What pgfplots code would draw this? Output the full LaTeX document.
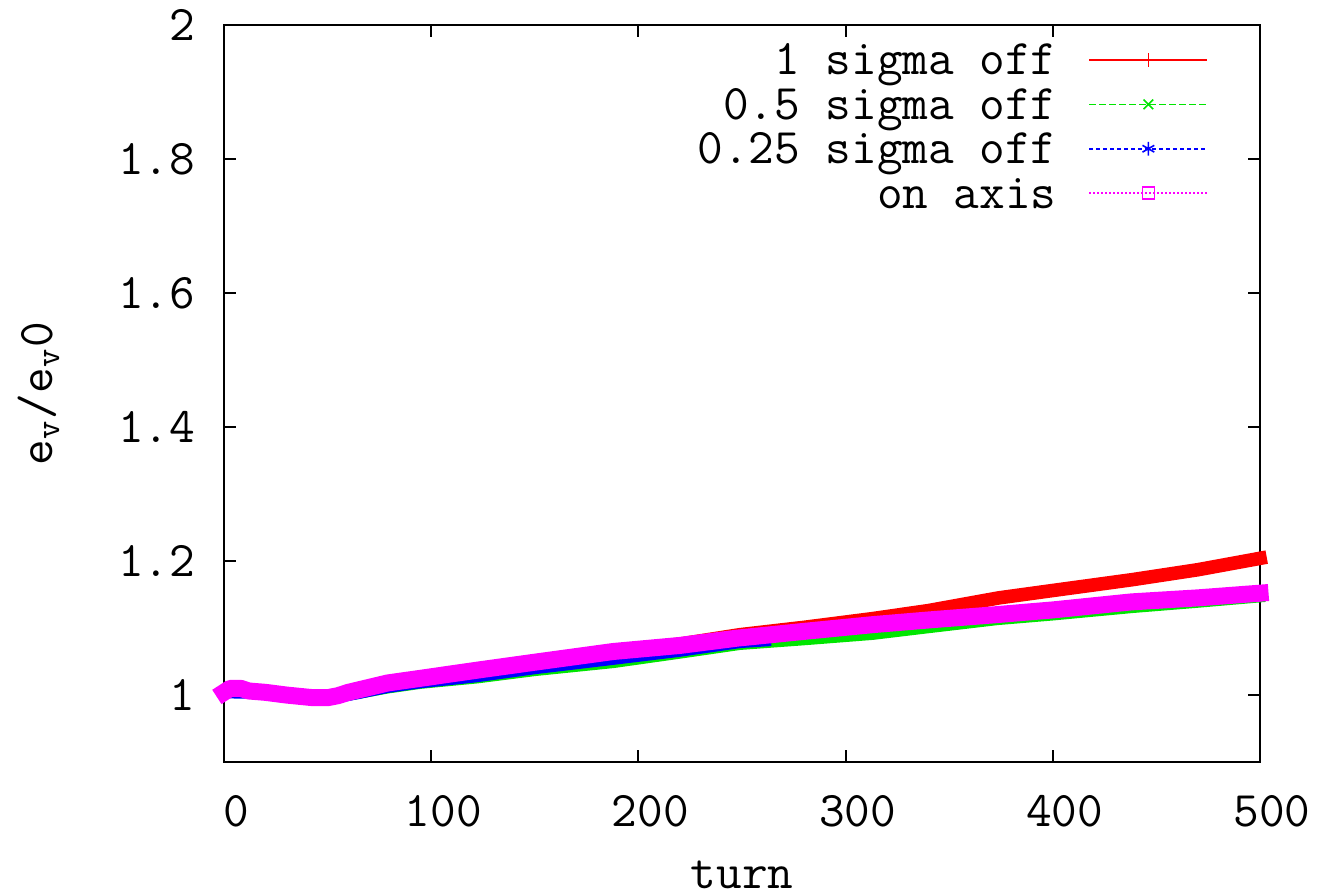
\documentclass[border=0pt]{standalone}
\usepackage{pgfplots}
\pgfplotsset{compat=1.18}
\renewcommand{\familydefault}{\ttdefault}
\definecolor{gpred}{RGB}{255,0,0}
\definecolor{gpgreen}{RGB}{0,230,0}
\definecolor{gpblue}{RGB}{0,0,255}
\definecolor{gpmag}{RGB}{255,0,255}
\begin{document}
\begin{tikzpicture}
\begin{axis}[
  name=ax,
  scale only axis,
  width=259bp, height=184.25bp,
  xmin=0, xmax=500, ymin=0.9, ymax=2,
  xtick={0,100,200,300,400,500},
  ytick={1,1.2,1.4,1.6,1.8,2},
  tick align=inside,
  xtick pos=both, ytick pos=both,
  major tick length=3bp,
  axis line style={line width=0.5bp},
  every tick/.style={black, line width=0.5bp},
  clip=false,
  /pgf/number format/assume math mode=true,
  /pgf/number format/fixed,
  tick label style={font=\fontsize{12.5}{15}\selectfont\ttfamily},
  yticklabel style={anchor=east, inner sep=0pt, xshift=-7bp},
  xticklabel style={anchor=north, inner sep=0pt, yshift=-8.25bp, xshift=3bp},
  label style={font=\fontsize{12.5}{15}\selectfont\ttfamily},
  xlabel={turn},
  xlabel style={at={(axis description cs:0.5,0)}, anchor=north, inner sep=0pt, yshift=-24.5bp},
  ylabel={e\textsubscript{v}/e\textsubscript{v}0},
  ylabel style={at={(axis description cs:-0.166,0.5)}, anchor=base, inner sep=0pt},
  legend style={draw=none, fill=none, at={(axis description cs:0.9623,0.993)}, anchor=north east,
    font=\fontsize{12.5}{15}\selectfont\ttfamily,
    nodes={inner sep=0pt, text height=9bp, text depth=1.5bp},
    row sep=0.6bp, column sep=8bp},
  legend cell align=right,
  legend plot pos=right,
  legend image code/.code={\draw[mark repeat=2,mark phase=2,#1] plot coordinates {(0bp,0bp) (14.75bp,0bp) (29.5bp,0bp)};},
]
% 1 sigma off
\addplot[gpred, line width=3.4bp, line cap=rect, line join=round, forget plot] coordinates {
(0,1.004) (3,1.009) (8,1.009) (12,1.006) (20,1.003) (30,0.999) (43,0.995) (50,0.995) (55,0.998)
(60,1.003) (79,1.016) (95,1.024) (122,1.036) (150,1.048) (188,1.064) (220,1.076) (249,1.090)
(280,1.101) (313,1.114) (340,1.126) (374,1.145) (400,1.156) (438,1.172) (470,1.187) (500,1.204)};
% 0.5 sigma off
\addplot[gpgreen, line width=2.6bp, line cap=rect, line join=round, forget plot] coordinates {
(0,1.004) (20,1.003) (43,0.996) (55,0.997) (65,1.002) (79,1.010) (95,1.017) (122,1.025)
(150,1.036) (188,1.048) (220,1.062) (249,1.075) (280,1.082) (313,1.090) (340,1.100) (373,1.112)
(400,1.119) (438,1.130) (470,1.138) (500,1.146)};
% 0.25 sigma off
\addplot[gpblue, line width=3bp, line join=round, forget plot] coordinates {
(0,1.004) (20,1.003) (43,0.996) (55,0.997) (65,1.003) (79,1.012) (95,1.019) (122,1.028)
(150,1.040) (188,1.054) (220,1.066) (249,1.079) (264,1.082)};
% on axis
\addplot[gpmag, line width=4.25bp, line cap=rect, line join=round, forget plot] coordinates {
(0,1.004) (3,1.010) (8,1.010) (12,1.006) (20,1.004) (30,1.000) (43,0.996) (50,0.996) (55,0.999)
(60,1.004) (79,1.018) (95,1.025) (122,1.037) (150,1.049) (188,1.065) (220,1.074) (248,1.085)
(280,1.095) (313,1.105) (340,1.112) (373,1.120) (400,1.127) (438,1.139) (470,1.145) (500,1.152)};
\addlegendimage{gpred, line width=0.4bp, mark=+, mark size=1.7bp}
\addlegendentry{1 sigma off}
\addlegendimage{gpgreen, line width=0.4bp, dash pattern=on 1.75bp off 0.75bp, mark=x, mark size=1.7bp, mark options={solid}}
\addlegendentry{0.5 sigma off}
\addlegendimage{gpblue, line width=0.4bp, dash pattern=on 1bp off 0.75bp, mark=asterisk, mark size=1.7bp, mark options={solid}}
\addlegendentry{0.25 sigma off}
\addlegendimage{gpmag, line width=0.4bp, dash pattern=on 0.5bp off 0.5bp, mark=square, mark size=1.5bp, mark options={solid}}
\addlegendentry{on axis}
\end{axis}
\pgfresetboundingbox
\path[use as bounding box] ([xshift=-56bp,yshift=-32.5bp]ax.south west) rectangle ([xshift=19.75bp,yshift=6.25bp]ax.north east);
\end{tikzpicture}
\end{document}
